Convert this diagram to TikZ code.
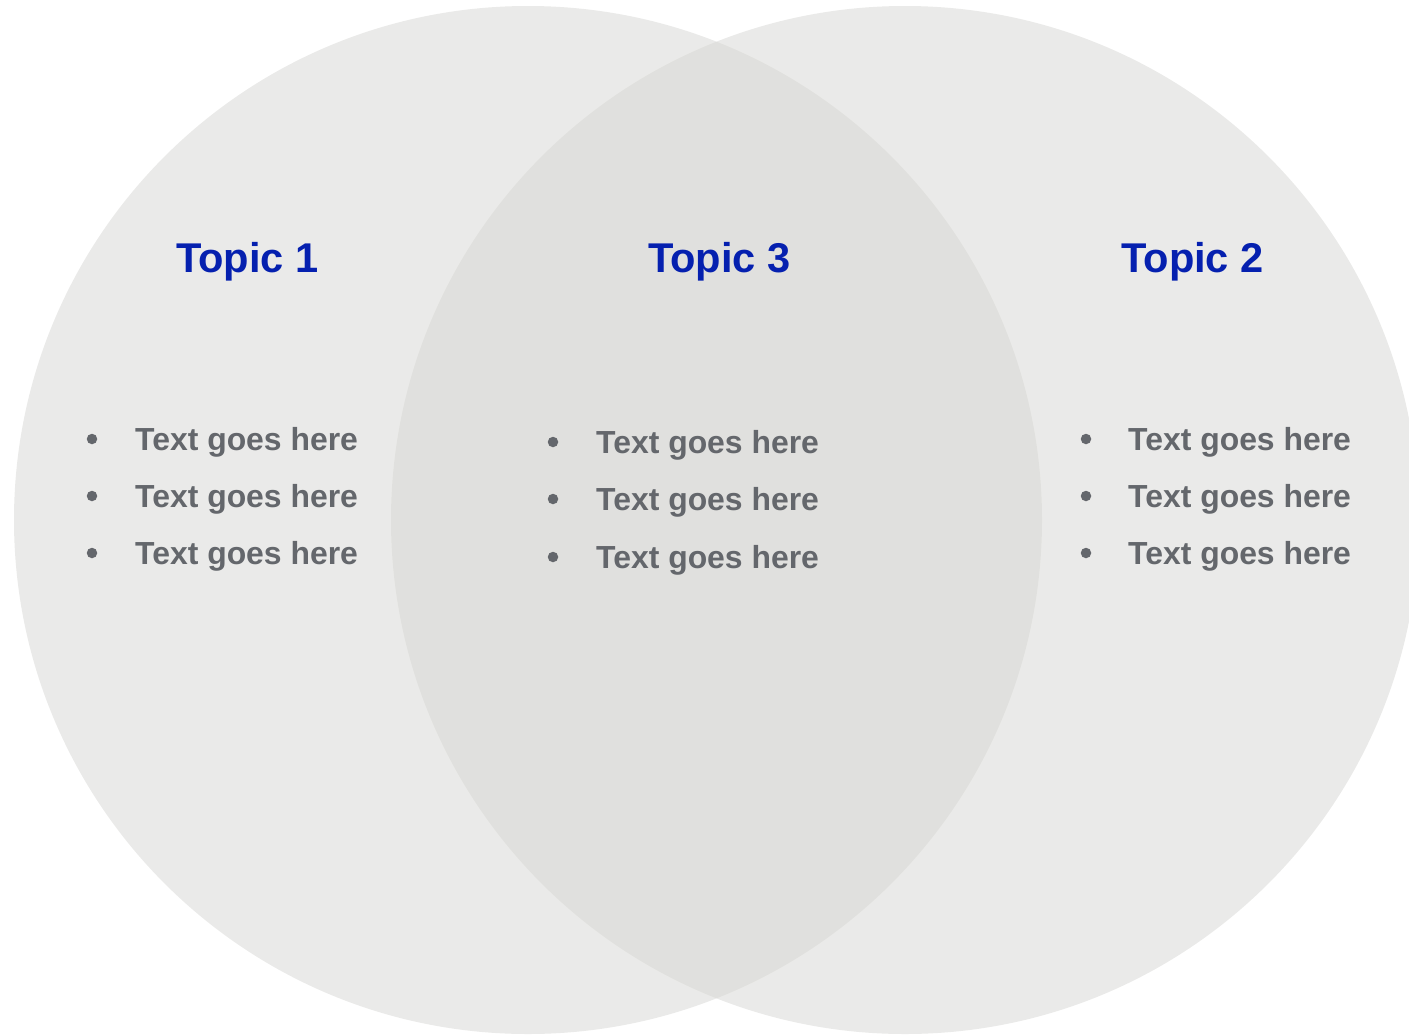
\documentclass[tikz,border=0pt]{standalone}
\usepackage{fontspec}
\setmainfont{Liberation Sans}
\usepackage{tikz}
\usepackage{xcolor}

\definecolor{topicblue}{RGB}{5,32,175}
\definecolor{bodygray}{RGB}{100,103,108}
\definecolor{setgray}{RGB}{215,215,212}

\tikzset{
  topic/.style={anchor=base, inner sep=0pt, text=topicblue,
    font=\fontsize{41.6}{48}\selectfont\bfseries},
  item/.style={anchor=base west, inner sep=0pt, text=bodygray,
    font=\fontsize{31.9}{38}\selectfont\bfseries},
  dot/.style={circle, fill=bodygray, inner sep=0pt, minimum size=10.5pt},
}

\begin{document}
\begin{tikzpicture}[x=1pt,y=-1pt]
                \useasboundingbox (0,0) rectangle (1409,1034);
                % the two sets
                \fill[setgray,opacity=0.52] (528,520) circle (514pt);
                \fill[setgray,opacity=0.52] (905,520) circle (514pt);
                % headings
                \node[topic] (topic1) at (247.5,272) {Topic 1};
                \node[topic] (topic3) at (719.5,272) {Topic 3};
                \node[topic] (topic2) at (1192.5,272) {Topic 2};
                % bullet lists
                \foreach \y [count=\i] in {450,507,564} {
                    \node[dot] (dotl\i) at (92,\y-11) {};
                    \node[item] (left\i) at (135,\y) {Text goes here};
                    \node[dot] (dotr\i) at (1086,\y-11) {};
                    \node[item] (right\i) at (1128,\y) {Text goes here};
                }
                \foreach \y [count=\i] in {453,510,568} {
                    \node[dot] (dotm\i) at (553,\y-11) {};
                    \node[item] (mid\i) at (596,\y) {Text goes here};
                }
            \end{tikzpicture}
\end{document}
